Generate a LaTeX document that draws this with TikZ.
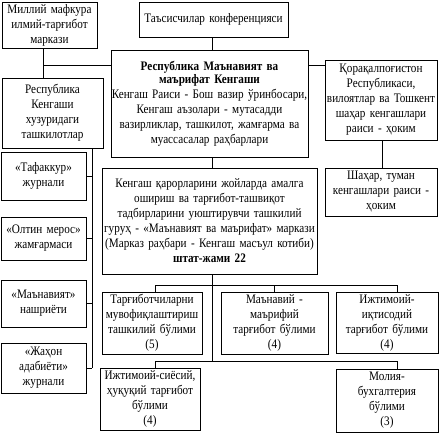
\documentclass[tikz,border=0pt]{standalone}
\usepackage{fontspec}
\setmainfont{Liberation Serif}[FakeStretch=0.86]
\begin{document}
\begin{tikzpicture}[x=1pt, y=-1pt,
    box/.style={draw, line width=0.9pt, align=center, inner sep=0pt,
      text width=#1, minimum width=#1, font=\fontsize{13}{15}\selectfont},
    link/.style={line width=0.9pt}]
  \useasboundingbox (0,0) rectangle (440,433);

  % Top row
  \node[box=95pt, minimum height=46pt] (milliy) at (49.5,25)
    {Миллий мафкура\\илмий-тарғибот\\маркази};
  \node[box=149pt, minimum height=35pt] (tasis) at (213.5,19.5)
    {Таъсисчилар конференцияси};

  % Council
  \node[box=197pt, minimum height=107pt] (kengash) at (209.5,103.5)
    {\textbf{Республика Маънавият ва}\\[-2pt]\textbf{маърифат Кенгаши}\\
     Кенгаш Раиси - Бош вазир ўринбосари,\\Кенгаш аъзолари - мутасадди\\
     вазирликлар, ташкилот, жамғарма ва\\муассасалар раҳбарлари};
  \node[box=101pt, minimum height=70pt] (tashkilot) at (52.5,113)
    {Республика\\Кенгаши\\хузуридаги\\ташкилотлар};
  \node[box=112pt, minimum height=80pt] (viloyat) at (381,100)
    {Қорақалпоғистон\\Республикаси,\\вилоятлар ва Тошкент\\шаҳар кенгашлари\\раиси - ҳоким};
  \node[box=112pt, minimum height=48pt] (tuman) at (381,192)
    {Шаҳар, туман\\кенгашлари раиси -\\ҳоким};

  % Working group
  \node[box=215pt, minimum height=106pt] (markaz) at (209.5,221)
    {Кенгаш қарорларини жойларда амалга\\ошириш ва тарғибот-ташвиқот\\
     тадбирларини уюштирувчи ташкилий\\гуруҳ - «Маънавият ва маърифат» маркази\\
     (Марказ раҳбари - Кенгаш масъул котиби)\\\textbf{штат-жами 22}};

  % Journals and funds
  \node[box=85pt, minimum height=48pt] (tafakkur) at (43.5,176)
    {«Тафаккур»\\журнали};
  \node[box=85pt, minimum height=43pt] (meros) at (43.5,238.5)
    {«Олтин мерос»\\жамғармаси};
  \node[box=85pt, minimum height=47pt] (nashriyot) at (43.5,303.5)
    {«Маънавият»\\нашриёти};
  \node[box=85pt, minimum height=50pt] (jahon) at (43.5,368)
    {«Жаҳон\\адабиёти»\\журнали};

  % Departments
  \node[box=100pt, minimum height=62pt] (bolim1) at (152,323)
    {Тарғиботчиларни\\мувофиқлаштириш\\ташкилий бўлими\\(5)};
  \node[box=107pt, minimum height=62pt] (bolim2) at (274.5,323)
    {Маънавий -\\маърифий\\тарғибот бўлими\\(4)};
  \node[box=102pt, minimum height=61pt] (bolim3) at (387,322.5)
    {Ижтимоий-\\иқтисодий\\тарғибот бўлими\\(4)};
  \node[box=100pt, minimum height=62pt] (bolim4) at (150,399)
    {Ижтимоий-сиёсий,\\ҳуқуқий тарғибот\\бўлими\\(4)};
  \node[box=102pt, minimum height=63pt] (bolim5) at (387,400.5)
    {Молия-\\бухгалтерия\\бўлими\\(3)};

  % Bus lines
  \coordinate (topbar) at (43,65);
  \coordinate (busL) at (92,0);
  \coordinate (trunk) at (212,0);
  \coordinate (busA) at (0,285);
  \coordinate (busB) at (0,361);

  \draw[link] (tasis.south -| trunk) -- (kengash.north -| trunk);
  \draw[link] (kengash.south -| trunk) -- (markaz.north -| trunk);
  \draw[link] (markaz.south -| trunk) -- (trunk |- busB);
  \draw[link] (milliy.south -| topbar) -- (tashkilot.north -| topbar);
  \draw[link] (topbar) -- (topbar -| kengash.west);
  \draw[link] (topbar -| kengash.east) -- (topbar -| viloyat.west);
  \draw[link] ([xshift=1pt]viloyat.south) -- ([xshift=1pt]tuman.north);

  % Left column
  \draw[link] (tashkilot.south -| busL) -- (busL |- jahon.east);
  \foreach \n in {tafakkur, meros, nashriyot, jahon}
    \draw[link] (\n.east) -- (\n.east -| busL);

  % Departments
  \draw[link] ([xshift=3pt]bolim1.north) |- ([xshift=10pt]bolim3.north |- busA)
    -- ([xshift=10pt]bolim3.north);
  \draw[link] (bolim2.north) -- (bolim2.north |- busA);
  \draw[link] ([xshift=5pt]bolim4.north) |- ([xshift=10pt]bolim5.north |- busB)
    -- ([xshift=10pt]bolim5.north);
\end{tikzpicture}
\end{document}
